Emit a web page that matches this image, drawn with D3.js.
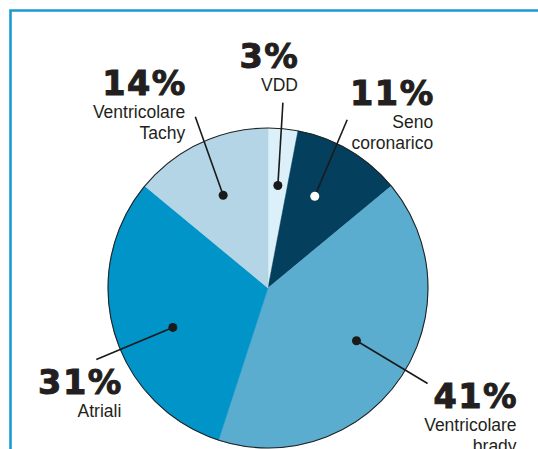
<!DOCTYPE html>
<html><head><meta charset="utf-8">
<script src="https://cdn.jsdelivr.net/npm/d3@7"></script>
<style>html,body{margin:0;padding:0;background:#fff;overflow:hidden}</style>
</head><body>
<svg id="chart" width="538" height="449"></svg>
<script>
const categories = ["VDD", "Seno coronarico", "Ventricolare brady", "Atriali", "Ventricolare Tachy"];
const labelLines = [["VDD"], ["Seno", "coronarico"], ["Ventricolare", "brady"], ["Atriali"], ["Ventricolare", "Tachy"]];
const values = [3, 11, 41, 31, 14];
const percentLabels = ["3%", "11%", "41%", "31%", "14%"];
const colors = ["#dcf0f9", "#053f5e", "#5badcf", "#0094c9", "#b3d5e5"];
const dotColors = ["#1a1a1a", "#ffffff", "#1a1a1a", "#1a1a1a", "#1a1a1a"];

// layout: angular nudges (degrees) of dot / leader end from the slice mid-angle
const dotShift = [0.1, -3.6, -3.4, -6.3, -0.6];
const endShift = [-0.8, -5.4, -3.3, -6.4, 2.2];
// layout: label anchor offsets (right edge, first baseline) relative to leader-line end
const labelOffsets = [[15, -35], [86, -15], [89, 24], [25, 35], [-10, -22]];

const svg = d3.select("#chart");
const W = 538, H = 449;
const cx = 268, cy = 288, R = 160;
const rad = Math.PI / 180;

// frame
svg.append("path")
  .attr("d", `M10.5,${H} L10.5,10.5 L${W},10.5`)
  .attr("fill", "none").attr("stroke", "#1d9ad3").attr("stroke-width", 2.6);

const pie = d3.pie().sort(null).value(d => d)(values);
const arc = d3.arc().innerRadius(0).outerRadius(R);

const g = svg.append("g").attr("transform", `translate(${cx},${cy})`);
g.selectAll("path.slice").data(pie).join("path")
  .attr("class", "slice")
  .attr("d", arc)
  .attr("fill", (d, i) => colors[i])
  .attr("stroke", (d, i) => colors[i]).attr("stroke-width", 0.5);
g.append("circle").attr("r", R).attr("fill", "none").attr("stroke", "#222").attr("stroke-width", 1.1);

// leader lines and dots
pie.forEach((d, i) => {
  const mid = (d.startAngle + d.endAngle) / 2;
  const p = d3.pointRadial(mid + dotShift[i] * rad, 103);
  const e = d3.pointRadial(mid + endShift[i] * rad, 186);
  g.append("line").attr("x1", p[0]).attr("y1", p[1]).attr("x2", e[0]).attr("y2", e[1])
    .attr("stroke", "#1a1a1a").attr("stroke-width", 1.6);
  g.append("circle").attr("cx", p[0]).attr("cy", p[1]).attr("r", 4.5)
    .attr("fill", dotColors[i]);
  const ax = e[0] + labelOffsets[i][0], ay = e[1] + labelOffsets[i][1];
  const t = g.append("g").attr("transform", `translate(${ax},${ay})`);
  t.append("text").attr("text-anchor", "end").attr("dx", 1.5)
    .attr("font-family", "DejaVu Sans").attr("font-weight", "bold").attr("font-size", 33.5)
    .attr("letter-spacing", 1.5)
    .attr("fill", "#231f20").attr("stroke", "#231f20").attr("stroke-width", 1)
    .text(percentLabels[i]);
  labelLines[i].forEach((s, j) => {
    t.append("text").attr("text-anchor", "end").attr("y", 23 + j * 21)
      .attr("font-family", "Liberation Sans, Arial, sans-serif").attr("font-size", 17.5)
      .attr("fill", "#231f20").text(s);
  });
});
</script>
</body></html>
